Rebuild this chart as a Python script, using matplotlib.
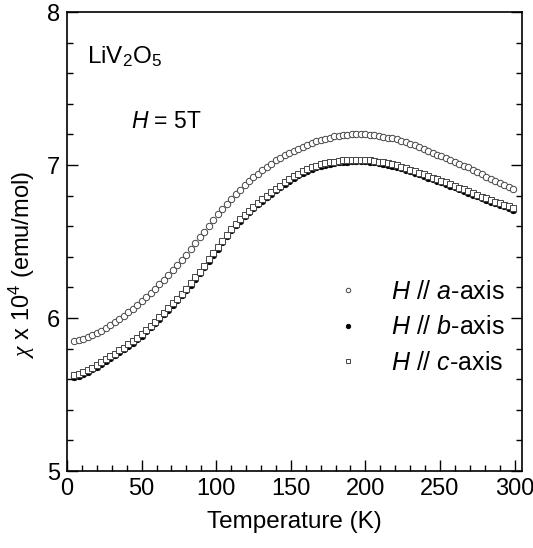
import matplotlib
matplotlib.use("Agg")
import matplotlib.pyplot as plt
from matplotlib.ticker import MultipleLocator

plt.rcParams['font.family'] = ['Liberation Sans', 'DejaVu Sans']
plt.rcParams['mathtext.fontset'] = 'custom'
plt.rcParams['mathtext.rm'] = 'Liberation Sans'
plt.rcParams['mathtext.it'] = 'Liberation Sans:italic'
# serif italic used only for the chi in the y label
plt.rcParams['mathtext.bf'] = 'Liberation Serif:italic'

# temperature grid (K)
temps = [5, 8, 11, 14, 17, 20, 23, 26, 29, 32, 35, 38, 41, 44, 47, 50, 53, 56, 59,
         62, 65, 68, 71, 74, 77, 80, 83, 86, 89, 92, 95, 98, 101, 104, 107, 110,
         113, 116, 119, 122, 125, 128, 131, 134, 137, 140, 143, 146, 149, 152, 155,
         158, 161, 164, 167, 170, 173, 176, 179, 182, 185, 188, 191, 194, 197, 200,
         203, 206, 209, 212, 215, 218, 221, 224, 227, 230, 233, 236, 239, 242, 245,
         248, 251, 254, 257, 260, 263, 266, 269, 272, 275, 278, 281, 284, 287, 290,
         293, 296, 299]

# chi x 10^4 (emu/mol), H // a
chi_a = [5.850, 5.855, 5.863, 5.874, 5.886, 5.900, 5.918, 5.936, 5.954, 5.974,
         5.995, 6.016, 6.038, 6.062, 6.086, 6.110, 6.137, 6.164, 6.191, 6.220,
         6.250, 6.280, 6.311, 6.344, 6.377, 6.410, 6.449, 6.488, 6.527, 6.565,
         6.602, 6.640, 6.677, 6.711, 6.746, 6.780, 6.810, 6.840, 6.870, 6.896,
         6.920, 6.944, 6.967, 6.988, 7.009, 7.030, 7.047, 7.063, 7.080, 7.094,
         7.107, 7.121, 7.134, 7.144, 7.155, 7.165, 7.173, 7.180, 7.188, 7.192,
         7.195, 7.198, 7.200, 7.200, 7.200, 7.200, 7.197, 7.194, 7.191, 7.186,
         7.180, 7.174, 7.167, 7.158, 7.149, 7.140, 7.128, 7.116, 7.104, 7.092,
         7.080, 7.068, 7.056, 7.044, 7.032, 7.020, 7.008, 6.996, 6.984, 6.970,
         6.955, 6.940, 6.925, 6.910, 6.895, 6.880, 6.868, 6.856, 6.844]

# H // b
chi_b = [5.615, 5.622, 5.634, 5.649, 5.664, 5.680, 5.700, 5.719, 5.739, 5.758,
         5.778, 5.797, 5.818, 5.840, 5.862, 5.885, 5.912, 5.939, 5.966, 5.995,
         6.025, 6.055, 6.086, 6.117, 6.149, 6.180, 6.218, 6.255, 6.293, 6.332,
         6.373, 6.413, 6.454, 6.494, 6.535, 6.575, 6.605, 6.635, 6.665, 6.692,
         6.718, 6.743, 6.768, 6.790, 6.813, 6.835, 6.856, 6.877, 6.898, 6.916,
         6.933, 6.949, 6.964, 6.974, 6.985, 6.995, 7.001, 7.007, 7.013, 7.017,
         7.020, 7.023, 7.025, 7.025, 7.025, 7.025, 7.021, 7.017, 7.013, 7.008,
         7.001, 6.994, 6.987, 6.978, 6.969, 6.960, 6.950, 6.939, 6.929, 6.918,
         6.908, 6.897, 6.887, 6.876, 6.866, 6.855, 6.843, 6.831, 6.819, 6.807,
         6.795, 6.783, 6.772, 6.761, 6.751, 6.740, 6.730, 6.719, 6.709]

# H // c
chi_c = [5.628, 5.632, 5.644, 5.659, 5.674, 5.690, 5.710, 5.729, 5.749, 5.768,
         5.788, 5.807, 5.828, 5.850, 5.872, 5.895, 5.922, 5.949, 5.976, 6.005,
         6.035, 6.065, 6.096, 6.127, 6.159, 6.190, 6.228, 6.265, 6.303, 6.342,
         6.383, 6.423, 6.464, 6.504, 6.545, 6.585, 6.615, 6.645, 6.675, 6.702,
         6.728, 6.753, 6.778, 6.800, 6.823, 6.845, 6.866, 6.887, 6.908, 6.926,
         6.943, 6.959, 6.974, 6.984, 6.995, 7.005, 7.011, 7.017, 7.023, 7.027,
         7.030, 7.033, 7.035, 7.035, 7.035, 7.035, 7.031, 7.027, 7.023, 7.018,
         7.011, 7.004, 6.997, 6.988, 6.979, 6.970, 6.960, 6.949, 6.939, 6.928,
         6.918, 6.907, 6.897, 6.886, 6.876, 6.865, 6.853, 6.841, 6.829, 6.817,
         6.805, 6.793, 6.782, 6.771, 6.761, 6.750, 6.740, 6.729, 6.719]

labels = [r'$H$ $\mathit{//}$ $a$-axis', r'$H$ $\mathit{//}$ $b$-axis',
          r'$H$ $\mathit{//}$ $c$-axis']

fig = plt.figure(figsize=(5.33, 5.48), dpi=100)
ax = fig.add_axes([0.1257, 0.1405, 0.8537, 0.8375])

ms = 4.6
hb, = ax.plot(temps, chi_b, 'o', ms=ms, mfc='black', mec='black', mew=0.6)
hc, = ax.plot(temps, chi_c, 's', ms=ms - 0.5, mfc='white', mec='#444444', mew=0.7)
ha, = ax.plot(temps, chi_a, 'o', ms=ms, mfc='white', mec='#444444', mew=0.7)

ax.set_xlim(0, 305)
ax.set_ylim(5, 8)
ax.xaxis.set_major_locator(MultipleLocator(50))
ax.xaxis.set_minor_locator(MultipleLocator(10))
ax.yaxis.set_major_locator(MultipleLocator(1))
ax.yaxis.set_minor_locator(MultipleLocator(0.2))
ax.tick_params(which='both', direction='in', top=False, right=True,
               labelsize=17, width=1.0, pad=5)
ax.tick_params(which='major', length=8)
ax.tick_params(which='minor', length=4.5)
for s in ax.spines.values():
    s.set_linewidth(1.2)

ax.set_xlabel('Temperature (K)', fontsize=17.5, labelpad=8)
ax.set_ylabel('$\\mathbf{\u03c7}$ x 10$^4$ (emu/mol)', fontsize=17)
ax.yaxis.set_label_coords(-0.066, 0.449)

ax.text(0.044, 0.889, r'LiV$_2$O$_5$', transform=ax.transAxes, fontsize=17.5)
ax.text(0.14, 0.747, r'$H$ = 5T', transform=ax.transAxes, fontsize=16.5)

leg = ax.legend([ha, hb, hc], labels, loc='lower right',
                bbox_to_anchor=(1.0, 0.172), frameon=False, fontsize=18,
                handletextpad=1.2, handlelength=1.0, labelspacing=0.45,
                borderaxespad=0.3, markerscale=0.7)

fig.savefig('out.png', dpi=100)
